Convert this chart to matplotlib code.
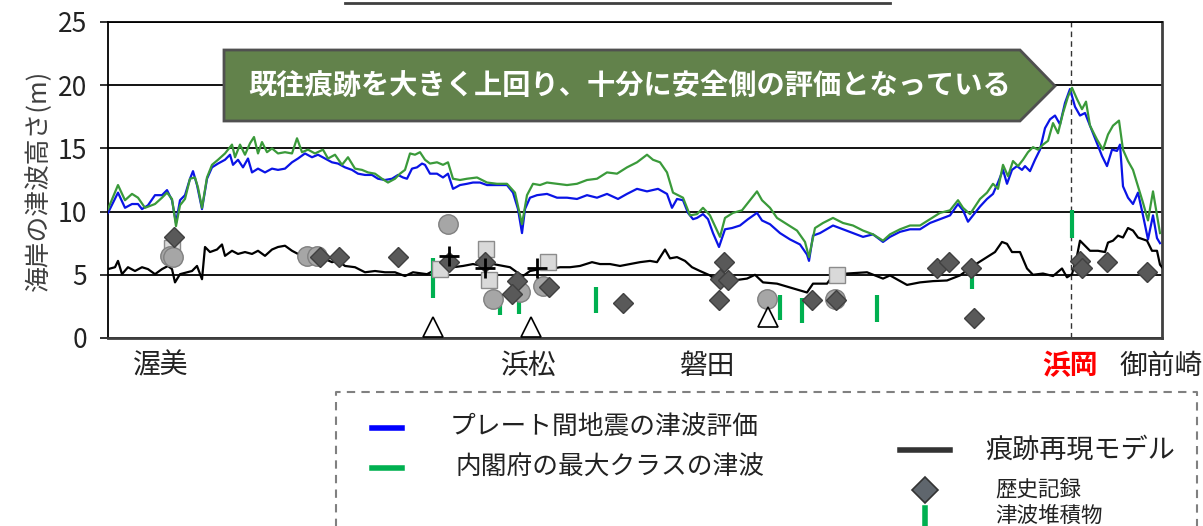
import numpy as np
import matplotlib
matplotlib.use("Agg")
import matplotlib.pyplot as plt
from matplotlib.patches import Polygon

plt.rcParams['font.family'] = ['Noto Sans CJK JP', 'DejaVu Sans']

# distance along coast (km) / wave height (m)
blue_x = [0.0, 1.0, 1.7, 2.4, 3.0, 3.4, 4.0, 4.7, 5.4, 5.9, 6.4, 6.8, 7.2, 7.7, 8.2, 8.5, 8.9, 9.4, 9.9,
          10.4, 11.0, 11.7, 12.2, 12.5, 13.0, 13.5, 14.0, 14.4, 15.0, 15.7, 16.4, 17.0, 17.7, 18.4, 19.0,
          19.7, 20.4, 21.0, 21.7, 22.4, 23.0, 23.7, 24.4, 25.0, 25.7, 26.4, 27.0, 27.7, 28.4, 29.0, 29.5,
          29.9, 30.4, 30.9, 31.4, 31.7, 32.2, 32.9, 33.5, 34.0, 34.5, 35.2, 35.9, 36.5, 37.2, 37.9, 38.9,
          39.9, 40.5, 41.0, 41.4, 41.7, 42.2, 42.9, 43.9, 44.9, 45.9, 46.9, 47.9, 48.9, 49.9, 51.0, 51.9,
          52.9, 53.9, 55.0, 55.9, 56.4, 56.9, 57.5, 58.0, 58.5, 58.9, 59.5, 60.0, 60.5, 61.1, 61.7, 62.4,
          63.2, 64.0, 64.9, 65.4, 66.2, 67.2, 68.2, 69.2, 69.9, 70.1, 70.5, 71.2, 72.5, 73.5, 74.5, 75.5,
          76.5, 77.5, 78.2, 79.2, 80.2, 81.2, 82.2, 83.2, 84.2, 85.0, 85.5, 86.0, 86.9, 87.2, 87.9, 88.5,
          89.0, 89.5, 89.9, 90.4, 90.9, 91.4, 91.7, 92.2, 92.7, 93.2, 93.7, 94.2, 94.7, 95.2, 95.7, 96.2,
          96.7, 97.2, 97.7, 98.2, 98.9, 99.4, 99.9, 100.4, 100.9, 101.2, 101.5, 102.0, 102.5, 103.0, 103.5,
          104.0, 104.5, 104.9, 105.2]
blue_y = [9.9, 11.5, 10.3, 10.6, 10.6, 10.2, 10.5, 11.3, 11.3, 11.7, 10.9, 9.1, 10.9, 11.3, 12.6, 13.2, 12.1,
          10.2, 12.6, 13.5, 13.8, 14.1, 14.5, 13.7, 14.1, 13.5, 14.2, 13.1, 13.4, 13.1, 13.4, 13.3, 13.4,
          13.9, 14.2, 14.6, 14.3, 14.5, 14.2, 13.9, 13.8, 13.5, 13.3, 13.0, 12.9, 12.9, 12.6, 12.5, 12.6,
          12.9, 12.7, 12.6, 13.4, 13.5, 13.8, 13.7, 13.0, 13.0, 12.7, 13.0, 11.8, 12.1, 12.2, 12.3, 12.3,
          12.1, 12.1, 12.1, 11.5, 10.2, 8.3, 10.2, 11.1, 11.3, 11.4, 11.1, 11.1, 11.0, 11.3, 11.1, 11.4,
          11.0, 11.4, 11.8, 11.6, 11.8, 11.4, 10.3, 11.0, 10.9, 9.9, 9.4, 9.5, 9.8, 9.4, 8.3, 7.2, 8.6,
          8.7, 8.9, 9.4, 9.9, 9.3, 9.0, 8.3, 7.8, 7.4, 6.6, 6.1, 8.1, 8.3, 8.9, 8.6, 8.3, 8.0, 8.2, 7.6,
          8.0, 8.4, 8.6, 8.6, 9.1, 9.4, 9.7, 10.6, 10.1, 9.2, 10.1, 10.4, 11.0, 11.4, 12.3, 13.3, 12.2,
          13.3, 13.6, 13.3, 13.6, 13.2, 14.1, 14.9, 16.6, 17.3, 17.6, 16.9, 18.6, 19.7, 18.3, 17.6, 17.8,
          16.8, 15.4, 14.4, 13.6, 14.9, 14.8, 15.3, 12.0, 11.1, 10.6, 11.5, 9.7, 7.8, 9.7, 7.9, 7.5]

green_x = [0.0, 1.0, 1.7, 2.4, 3.0, 3.7, 4.7, 5.4, 5.9, 6.4, 6.8, 7.2, 7.7, 8.2, 8.7, 9.0, 9.4, 9.9, 10.4,
           11.0, 11.7, 12.4, 12.7, 13.2, 13.7, 14.2, 14.6, 15.0, 15.4, 15.9, 16.4, 17.0, 17.7, 18.4, 18.9,
           19.4, 20.0, 20.7, 21.5, 22.0, 22.7, 23.4, 24.0, 24.7, 25.4, 26.0, 26.7, 27.4, 28.0, 28.7, 29.2,
           29.7, 30.2, 30.7, 31.2, 31.7, 32.2, 32.9, 33.5, 34.0, 34.5, 35.2, 35.9, 36.9, 37.9, 38.9, 39.9,
           40.7, 41.4, 41.9, 42.5, 43.2, 43.9, 44.9, 45.9, 46.9, 47.9, 48.9, 49.9, 50.9, 51.9, 52.9, 53.9,
           54.5, 55.2, 55.9, 56.5, 57.5, 58.2, 58.9, 59.5, 60.2, 61.2, 61.7, 62.5, 63.4, 64.2, 64.9, 65.4,
           66.2, 66.9, 67.9, 68.9, 69.7, 70.1, 70.7, 71.5, 72.5, 73.5, 74.5, 75.5, 76.5, 77.5, 78.2, 79.2,
           80.2, 81.2, 82.2, 83.2, 84.2, 85.0, 85.5, 86.2, 87.2, 87.9, 88.5, 89.0, 89.5, 90.0, 90.5, 91.0,
           91.5, 92.0, 92.5, 93.0, 93.5, 94.0, 94.5, 95.0, 95.5, 96.0, 96.4, 96.9, 97.4, 97.8, 98.2, 98.9,
           99.5, 100.0, 100.5, 101.1, 101.5, 102.0, 102.5, 103.0, 103.5, 104.0, 104.5, 104.9, 105.2]
green_y = [10.2, 12.1, 10.9, 11.4, 11.1, 10.3, 10.6, 11.1, 11.5, 11.0, 8.85, 10.5, 11.0, 12.6, 12.7, 11.9,
           10.3, 12.7, 13.7, 14.1, 14.6, 15.3, 14.3, 15.3, 14.5, 15.4, 15.9, 14.6, 15.5, 14.7, 15.0, 14.6,
           14.7, 14.6, 15.8, 14.7, 14.9, 14.6, 14.9, 14.2, 14.5, 13.7, 14.3, 13.4, 13.3, 13.1, 13.0, 12.6,
           12.3, 12.6, 13.0, 13.3, 14.6, 14.5, 14.7, 14.1, 13.8, 13.9, 13.7, 13.9, 12.6, 12.5, 12.6, 12.7,
           12.3, 12.2, 12.2, 11.5, 9.0, 11.3, 12.2, 12.1, 12.3, 12.2, 12.1, 12.2, 12.5, 12.6, 13.1, 13.0,
           13.5, 13.9, 14.5, 14.1, 13.9, 13.1, 11.5, 11.1, 9.7, 9.8, 10.3, 9.7, 8.0, 9.5, 9.9, 10.1, 10.9,
           11.6, 10.9, 10.3, 9.5, 9.0, 8.5, 7.6, 6.4, 8.7, 9.1, 9.5, 9.1, 8.9, 8.5, 8.2, 7.7, 8.2, 8.6,
           8.9, 8.9, 9.4, 9.9, 10.1, 10.9, 10.3, 9.8, 11.0, 11.5, 12.2, 11.8, 13.7, 12.8, 14.0, 13.6, 14.1,
           14.7, 15.1, 14.9, 15.3, 15.6, 17.0, 16.2, 17.8, 19.1, 19.8, 18.9, 18.1, 18.7, 16.8, 15.7, 14.9,
           16.1, 16.8, 17.2, 14.9, 14.0, 13.3, 12.0, 10.7, 9.3, 11.6, 9.7, 8.3]

black_x = [0.0, 0.7, 1.0, 1.4, 2.0, 2.7, 3.4, 4.0, 4.7, 5.4, 6.0, 6.4, 6.7, 7.2, 7.9, 8.4, 8.9, 9.4, 9.7,
           10.2, 10.9, 11.4, 11.7, 12.4, 13.0, 13.7, 14.4, 15.0, 15.7, 16.4, 17.0, 17.7, 18.4, 19.0, 19.7,
           21.0, 22.4, 23.0, 23.7, 24.7, 25.7, 26.7, 27.7, 28.7, 29.7, 30.5, 31.9, 32.5, 33.5, 34.5, 35.5,
           36.5, 37.5, 38.5, 39.5, 40.2, 40.9, 41.5, 42.2, 43.2, 44.2, 45.2, 46.2, 47.2, 48.4, 49.2, 50.2,
           51.2, 52.2, 53.2, 54.2, 54.9, 55.7, 56.2, 56.9, 57.7, 58.4, 59.2, 60.2, 61.2, 62.5, 63.9, 64.7,
           65.5, 66.9, 68.2, 69.9, 70.5, 71.9, 72.5, 73.9, 75.9, 77.5, 78.2, 79.9, 81.2, 82.5, 83.9, 85.2,
           86.5, 87.9, 88.7, 89.4, 89.9, 90.4, 91.2, 91.9, 92.5, 93.5, 94.5, 95.4, 95.9, 96.4, 96.9, 97.2,
           97.7, 98.2, 99.0, 99.7, 100.0, 100.5, 101.0, 101.5, 102.0, 102.5, 103.0, 103.9, 104.4, 104.9,
           105.2, 105.4]
black_y = [5.45, 5.6, 6.1, 5.05, 5.6, 5.3, 5.6, 5.45, 5.05, 5.45, 5.7, 5.45, 4.4, 5.05, 5.2, 5.3, 5.7, 4.65,
           7.2, 6.8, 7.0, 7.4, 6.5, 6.9, 6.65, 6.8, 6.65, 6.9, 6.5, 7.0, 7.2, 7.3, 6.9, 6.65, 6.4, 6.5, 6.0,
           6.1, 5.7, 5.6, 5.2, 5.3, 5.2, 5.2, 4.9, 5.2, 5.05, 5.3, 5.45, 5.6, 5.7, 5.85, 5.7, 5.85, 5.7,
           5.6, 5.2, 4.9, 5.3, 5.45, 5.45, 5.6, 5.6, 5.7, 6.0, 5.85, 5.85, 5.7, 5.85, 6.0, 6.1, 6.0, 7.0,
           6.3, 6.4, 6.1, 5.6, 5.3, 4.95, 4.3, 4.55, 4.7, 5.0, 4.4, 4.3, 4.0, 3.6, 4.3, 4.3, 4.95, 5.1,
           5.2, 4.7, 4.95, 4.2, 4.4, 4.5, 4.55, 4.95, 5.7, 6.4, 6.8, 7.6, 7.45, 6.8, 6.8, 5.5, 5.0, 5.1,
           4.9, 5.5, 4.8, 5.05, 6.5, 7.7, 7.3, 6.9, 6.9, 6.8, 7.55, 7.7, 8.1, 7.95, 8.7, 8.5, 7.95, 7.7,
           6.9, 6.9, 5.8, 5.6]

# historical records
dia_x = [6.6, 21.2, 23.1, 29.0, 34.1, 37.7, 40.9, 40.4, 44.1, 51.5, 61.6, 61.2, 62.0, 61.1, 70.4, 72.8,
         82.9, 84.1, 86.3, 86.6, 97.2, 97.4, 99.9, 103.9]
dia_y = [8.0, 6.4, 6.4, 6.4, 6.0, 6.0, 4.5, 3.5, 4.0, 2.8, 6.05, 4.7, 4.55, 3.0, 3.0, 3.0,
         5.5, 6.0, 5.55, 1.6, 6.1, 5.5, 6.0, 5.25]
circ_x = [6.2, 6.5, 19.9, 20.9, 34.0, 38.5, 41.2, 43.5, 65.9, 72.7]
circ_y = [6.5, 6.4, 6.5, 6.5, 9.0, 3.1, 3.6, 4.1, 3.05, 3.1]
sq_x = [6.4, 33.2, 37.8, 38.1, 44.0, 72.9]
sq_y = [7.1, 5.45, 7.05, 4.55, 6.0, 5.0]
plus_x = [34.1, 37.7, 42.9]
plus_y = [6.5, 5.5, 5.5]
tri_x = [32.5, 42.3, 66.0]
tri_y = [0.9, 0.85, 1.65]

# tsunami deposits (vertical bars)
dep_x = [32.5, 39.2, 41.1, 48.8, 67.2, 69.4, 76.9, 86.4, 96.4]
dep_lo = [3.2, 1.8, 1.9, 2.0, 1.4, 1.2, 1.3, 3.9, 7.9]
dep_hi = [6.3, 2.9, 3.9, 4.0, 3.4, 3.2, 3.4, 5.0, 10.1]

place_x = [5.3, 42.0, 60.0, 96.2, 105.3]
place_names = ['渥美', '浜松', '磐田', '浜岡', '御前崎']
hamaoka_x = 96.3

fig = plt.figure(figsize=(12.03, 5.26), dpi=100)
ax = fig.add_axes([108/1203, 1-338/526, 1054/1203, 316/526])

ax.plot(blue_x, blue_y, color='#0a14e6', lw=1.6, zorder=3)
ax.plot(green_x, green_y, color='#3a9a3a', lw=1.6, zorder=3)
ax.plot(black_x, black_y, color='black', lw=1.6, zorder=3)

ax.vlines(dep_x, dep_lo, dep_hi, color='#00b050', lw=3, zorder=4)
ax.plot(sq_x, sq_y, 's', ms=12, mfc='#d9d9d9', mec='#8c8c8c', mew=1, zorder=5)
ax.plot(circ_x, circ_y, 'o', ms=14, mfc='#a6a6a6', mec='#808080', mew=1, zorder=6)
ax.plot(dia_x, dia_y, 'D', ms=10, mfc='#595959', mec='#404040', mew=1, zorder=7)
ax.plot(plus_x, plus_y, '+', ms=14, mec='black', mew=2, zorder=8)
ax.plot(tri_x, tri_y, '^', ms=14, mfc='white', mec='black', mew=1.2, zorder=8)

ax.axvline(hamaoka_x, color='#333333', lw=1, ls=(0, (4, 3)), zorder=2)

ax.set_xlim(0, 105.4)
ax.set_ylim(0, 25)
ax.set_yticks([0, 5, 10, 15, 20, 25])
ax.set_xticks([])
ax.yaxis.grid(True, color='black', lw=1.3)
ax.set_axisbelow(True)
ax.tick_params(axis='y', direction='out', length=6, width=1.3, pad=9, labelsize=19, colors='#222222')
ax.spines['left'].set_color('black')
ax.spines['left'].set_linewidth(1.3)
ax.spines['top'].set_linewidth(1.3)
ax.spines['bottom'].set_color('#404040')
ax.spines['bottom'].set_linewidth(2)
ax.spines['right'].set_color('#404040')
ax.spines['right'].set_linewidth(2)
ax.set_ylabel('海岸の津波高さ(m)', fontsize=18.5, color='#404040', labelpad=4)

for px, name in zip(place_x, place_names):
    if name == '浜岡':
        ax.text(px, -2.2, name, ha='center', va='center', fontsize=20, color='#ff0000',
                fontweight='bold', clip_on=False)
    else:
        ax.text(px, -2.2, name, ha='center', va='center', fontsize=20, color='#222222', clip_on=False)

# overlay in pixel coordinates: callout box and legend
ov = fig.add_axes([0, 0, 1, 1], zorder=10)
ov.set_xlim(0, 1203)
ov.set_ylim(526, 0)
ov.axis('off')
ov.patch.set_alpha(0)

ov.plot([345, 890], [3, 3], color='#404040', lw=2)

box = Polygon([(224, 50), (1020, 50), (1055, 86), (1020, 121), (224, 121)], closed=True,
              facecolor='#62824b', edgecolor='#505050', lw=2)
ov.add_patch(box)
ov.text(630, 86, '既往痕跡を大きく上回り、十分に安全側の評価となっている', ha='center', va='center',
        fontsize=20.3, color='white', fontweight='bold')

ov.plot([336, 336, 1197, 1197], [530, 392, 392, 530], color='#808080', lw=1.5, ls=(0, (4, 3)))
ov.plot([372, 402], [428, 428], color='#0000ff', lw=4)
ov.plot([372, 402], [468, 468], color='#00b050', lw=4)
ov.plot([900, 950], [450, 450], color='#333333', lw=4)
ov.plot([925], [490], 'D', ms=13, mfc='#5f666d', mec='#333333', mew=1.2)
ov.plot([925, 925], [508, 532], color='#00b050', lw=4)
ov.text(450, 428, 'プレート間地震の津波評価', va='center', fontsize=18.5, color='#222222')
ov.text(455, 468, '内閣府の最大クラスの津波', va='center', fontsize=18.5, color='#222222')
ov.text(985, 450, '痕跡再現モデル', va='center', fontsize=19.5, color='#222222')
ov.text(995, 490, '歴史記録', va='center', fontsize=15.5, color='#222222')
ov.text(995, 516, '津波堆積物', va='center', fontsize=15.5, color='#222222')

fig.savefig('out.png', dpi=100)
